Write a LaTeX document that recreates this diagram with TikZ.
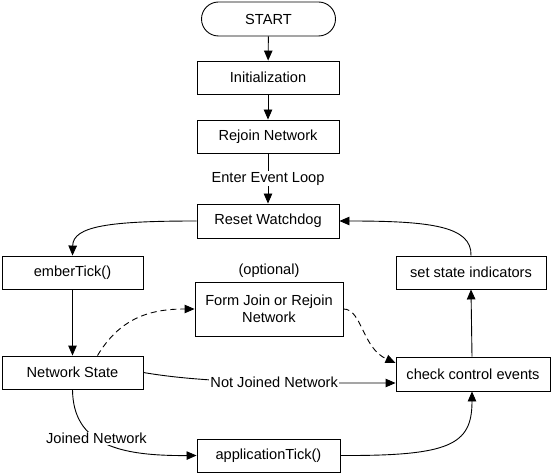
\documentclass[tikz,border=0pt]{standalone}
\usepackage{fontspec}
\setmainfont{Liberation Sans}
\usetikzlibrary{arrows.meta,shapes.misc,calc}
\begin{document}
\begin{tikzpicture}[x=1pt,y=-1pt,
  every node/.style={font=\fontsize{14.6}{17.5}\selectfont},
  box/.style={draw, line width=0.9pt, inner sep=0pt, align=center, minimum height=33pt},
  lbl/.style={fill=white, inner sep=1pt},
  conn/.style={draw, line width=0.9pt, -{Triangle[length=10pt,width=8.5pt]}},
  dconn/.style={conn, dash pattern=on 6pt off 4pt}
]
\useasboundingbox (0,0) rectangle (552,473);
\node[box, rounded rectangle, minimum width=134pt, minimum height=34pt] (start) at (268.5,19) {START};
\node[box, minimum width=142pt] (init) at (268,77.5) {Initialization};
\node[box, minimum width=142pt] (rejoin) at (268,136.5) {Rejoin Network};
\node[box, minimum width=142pt, minimum height=34pt] (reset) at (268,221) {Reset Watchdog};
\node[box, minimum width=141pt] (ember) at (72.5,272.5) {emberTick()};
\node[box, minimum width=150pt] (ssi) at (471,272.5) {set state indicators};
\node[box, minimum width=148pt, minimum height=54pt] (form) at (269,309) {Form Join or Rejoin\\Network};
\node (opt) at (269,271) {(optional)};
\node[box, minimum width=141pt] (ns) at (72.5,372.5) {Network State};
\node[box, minimum width=154pt, minimum height=34pt] (cce) at (473,374) {check control events};
\node[box, minimum width=143pt] (app) at (268.5,455.5) {applicationTick()};

\draw[conn] (start) -- (init);
\draw[conn] (init) -- (rejoin);
\draw[conn] (rejoin) -- node[lbl, pos=0.5] {Enter Event Loop} (reset);
\draw[conn] (reset.west) .. controls (110,221) and (73,226) .. (ember.north);
\draw[conn] (ember) -- (ns);
\draw[dconn] ($(ns.north)+(25,0)$) .. controls (120,318) and (150,309) .. (form.west);
\draw[dconn] (form.east) .. controls (362,309) and (362,348) .. ($(cce.west)+(0,-11)$);
\draw[conn] (ns.east) .. controls (210,384) and (300,383) .. node[lbl, pos=0.56] {Not Joined Network} ($(cce.west)+(0,9)$);
\draw[conn] (ns.south) .. controls (73,445) and (120,456) .. node[lbl, pos=0.42] {Joined Network} (app.west);
\draw[conn] (app.east) .. controls (450,456) and (472,445) .. ($(cce.south)+(-1,0)$);
\draw[conn] ($(cce.north)+(-1,0)$) -- (ssi.south);
\draw[conn] (ssi.north) .. controls (472,226) and (430,221) .. (reset.east);
\end{tikzpicture}
\end{document}
